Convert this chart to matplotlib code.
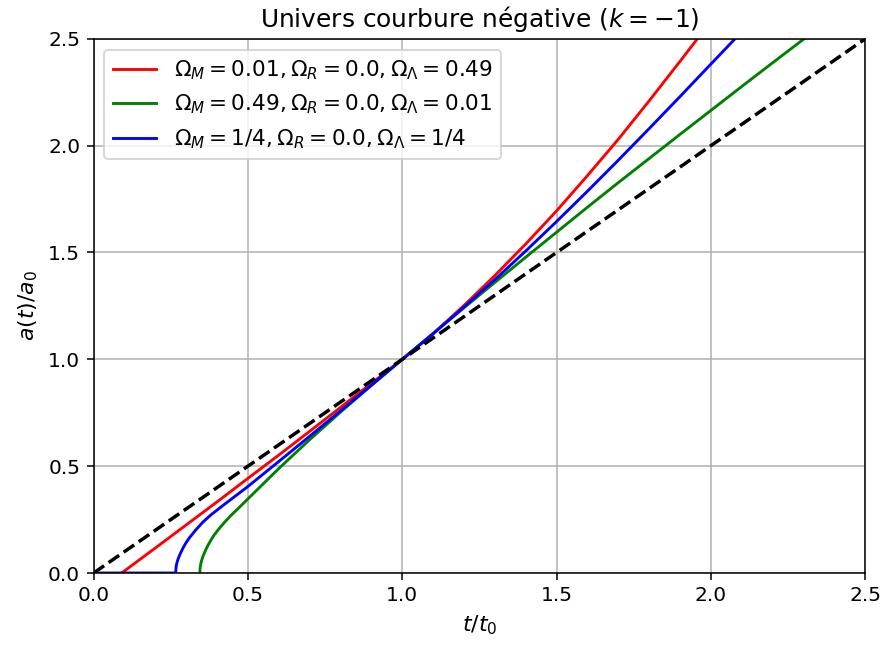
import matplotlib
matplotlib.use("Agg")
import matplotlib.pyplot as plt

# values (t/t0, a/a0)
t_red = [0.091, 0.2, 0.3, 0.4, 0.5, 0.6, 0.7, 0.8, 0.9, 1.0, 1.1, 1.2, 1.3,
         1.4, 1.5, 1.6, 1.7, 1.8, 1.9, 1.956]
a_red = [0.0, 0.117, 0.225, 0.333, 0.443, 0.552, 0.663, 0.775, 0.888, 1.0,
         1.12, 1.252, 1.392, 1.54, 1.695, 1.86, 2.03, 2.21, 2.395, 2.5]

t_green = [0.344, 0.345, 0.347, 0.35, 0.354, 0.364, 0.374, 0.389, 0.404,
           0.424, 0.444, 0.474, 0.5, 0.55, 0.6, 0.7, 0.8, 0.9, 1.0, 1.1, 1.2,
           1.3, 1.4, 1.5, 1.6, 1.7, 1.8, 1.9, 2.0, 2.1, 2.2, 2.3]
a_green = [0.0, 0.0225, 0.041, 0.059, 0.077, 0.111, 0.139, 0.175, 0.203,
           0.237, 0.268, 0.31, 0.347, 0.418, 0.489, 0.624, 0.753, 0.878, 1.0,
           1.121, 1.241, 1.36, 1.478, 1.595, 1.712, 1.827, 1.94, 2.053, 2.165,
           2.277, 2.388, 2.498]

t_blue = [0.0, 0.266, 0.267, 0.269, 0.273, 0.28, 0.29, 0.3, 0.311, 0.33,
          0.354, 0.38, 0.419, 0.45, 0.5, 0.6, 0.7, 0.8, 0.9, 1.0, 1.1, 1.2,
          1.3, 1.4, 1.5, 1.6, 1.7, 1.8, 1.9, 2.0, 2.078]
a_blue = [0.0, 0.0, 0.025, 0.043, 0.063, 0.088, 0.118, 0.143, 0.166, 0.2,
          0.238, 0.272, 0.316, 0.35, 0.405, 0.522, 0.64, 0.759, 0.879, 1.0,
          1.12, 1.245, 1.373, 1.507, 1.645, 1.787, 1.932, 2.08, 2.23, 2.382,
          2.5]

t_lin = [0.0, 2.5]
a_lin = [0.0, 2.5]

labels = [r'$\Omega_M=0.01, \Omega_R=0.0, \Omega_\Lambda=0.49$',
          r'$\Omega_M=0.49, \Omega_R=0.0, \Omega_\Lambda=0.01$',
          r'$\Omega_M=1/4, \Omega_R=0.0, \Omega_\Lambda=1/4$']

fig, ax = plt.subplots(figsize=(883 / 138, 646 / 138), dpi=138)
fig.subplots_adjust(left=0.106, right=0.98, bottom=0.113, top=0.94)

ax.plot(t_red, a_red, color='red', label=labels[0])
ax.plot(t_green, a_green, color='green', label=labels[1])
ax.plot(t_blue, a_blue, color='blue', label=labels[2])
ax.plot(t_lin, a_lin, 'k--', lw=1.8)

ax.set_xlim(0, 2.5)
ax.set_ylim(0, 2.5)
ax.tick_params(labelsize=10.5)
ax.set_xlabel(r'$t/t_0$', fontsize=11.5)
ax.set_ylabel(r'$a(t)/a_0$', fontsize=11.5)
ax.set_title(r'Univers courbure négative ($k=-1$)', fontsize=13)
ax.grid(True)
ax.legend(loc='upper left', fontsize=11.3)

fig.savefig('out.png', dpi=138)
